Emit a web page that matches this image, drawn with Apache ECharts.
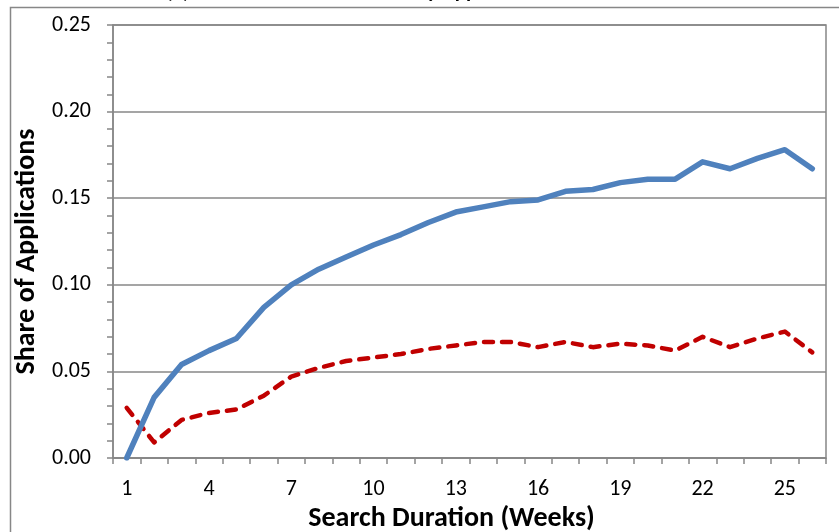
<!DOCTYPE html>
<html>
<head>
<meta charset="utf-8">
<script src="https://cdn.jsdelivr.net/npm/echarts@6/dist/echarts.min.js"></script>
<style>
  html, body { margin: 0; padding: 0; background: #fff; }
  #chart { width: 839px; height: 532px; }
</style>
</head>
<body>
<div id="chart"></div>
<script>
// search duration, weeks 1..26
var weeks = [];
for (var w = 1; w <= 26; w++) weeks.push(String(w));

// blue solid line
var solidShare = [0.000, 0.035, 0.054, 0.062, 0.069, 0.087, 0.100, 0.109, 0.116, 0.123,
                  0.129, 0.136, 0.142, 0.145, 0.148, 0.149, 0.154, 0.155, 0.159, 0.161,
                  0.161, 0.171, 0.167, 0.173, 0.178, 0.167];
// red dashed line
var dashedShare = [0.029, 0.009, 0.022, 0.026, 0.028, 0.036, 0.047, 0.052, 0.056, 0.058,
                   0.060, 0.063, 0.065, 0.067, 0.067, 0.064, 0.067, 0.064, 0.066, 0.065,
                   0.062, 0.070, 0.064, 0.069, 0.073, 0.061];

var FONT = "'Carlito', 'Liberation Sans Narrow', 'Noto Sans', sans-serif";
var GREY = '#878787';

var chart = echarts.init(document.getElementById('chart'), null, {renderer: 'canvas'});

var option = {
  backgroundColor: '#fff',
  animation: false,
  graphic: [
    {
      type: 'rect', silent: true,
      shape: {x: 10.5, y: 7.5, width: 900, height: 600},
      style: {fill: 'none', stroke: GREY, lineWidth: 1.5}
    },
    {
      type: 'text', silent: true, left: 166, top: -18,
      style: {text: '(a) Share of Interview Offers by Applications Sent', font: 'bold 21px ' + FONT, fill: '#000'}
    }
  ],
  grid: {left: 113, right: 13, top: 25, bottom: 74, show: true, borderColor: GREY, borderWidth: 1.5,
    outerBoundsMode: 'none', containLabel: false},
  xAxis: {
    type: 'category',
    data: weeks,
    boundaryGap: true,
    name: 'Search Duration (Weeks)',
    nameLocation: 'middle',
    nameGap: 46,
    nameTextStyle: {fontFamily: FONT, fontSize: 28, fontWeight: 'bold', color: '#000', padding: [0, 36, 0, 0]},
    axisLine: {lineStyle: {color: GREY, width: 1.5}},
    axisTick: {show: true, interval: 0, length: 6, lineStyle: {color: GREY, width: 1.5}},
    axisLabel: {interval: 2, margin: 20, fontFamily: FONT, fontSize: 22, color: '#000'},
    splitLine: {show: false}
  },
  yAxis: {
    type: 'value',
    min: 0, max: 0.25, interval: 0.05,
    name: 'Share of Applications',
    nameLocation: 'middle',
    nameGap: 67,
    nameTextStyle: {fontFamily: FONT, fontSize: 28, fontWeight: 'bold', color: '#000', padding: [0, 20, 0, 0]},
    axisLine: {show: true, lineStyle: {color: GREY, width: 1.5}},
    axisTick: {show: true, length: 6, lineStyle: {color: GREY, width: 1.5}},
    minorTick: {show: true, splitNumber: 5, length: 6, lineStyle: {color: GREY, width: 1.5}},
    axisLabel: {margin: 22, fontFamily: FONT, fontSize: 22, color: '#000',
      formatter: function (v) { return v.toFixed(2); }},
    splitLine: {show: true, lineStyle: {color: GREY, width: 1.5}}
  },
  series: [
    {
      type: 'line', data: solidShare, symbol: 'none', smooth: false,
      lineStyle: {color: '#4F81BD', width: 5.5, join: 'round', cap: 'round'},
      z: 3
    },
    {
      type: 'line', data: dashedShare, symbol: 'none', smooth: false,
      lineStyle: {color: '#C00000', width: 4.5, type: [9, 9], cap: 'round', join: 'round'},
      z: 2
    }
  ]
};

chart.setOption(option);
</script>
</body>
</html>
